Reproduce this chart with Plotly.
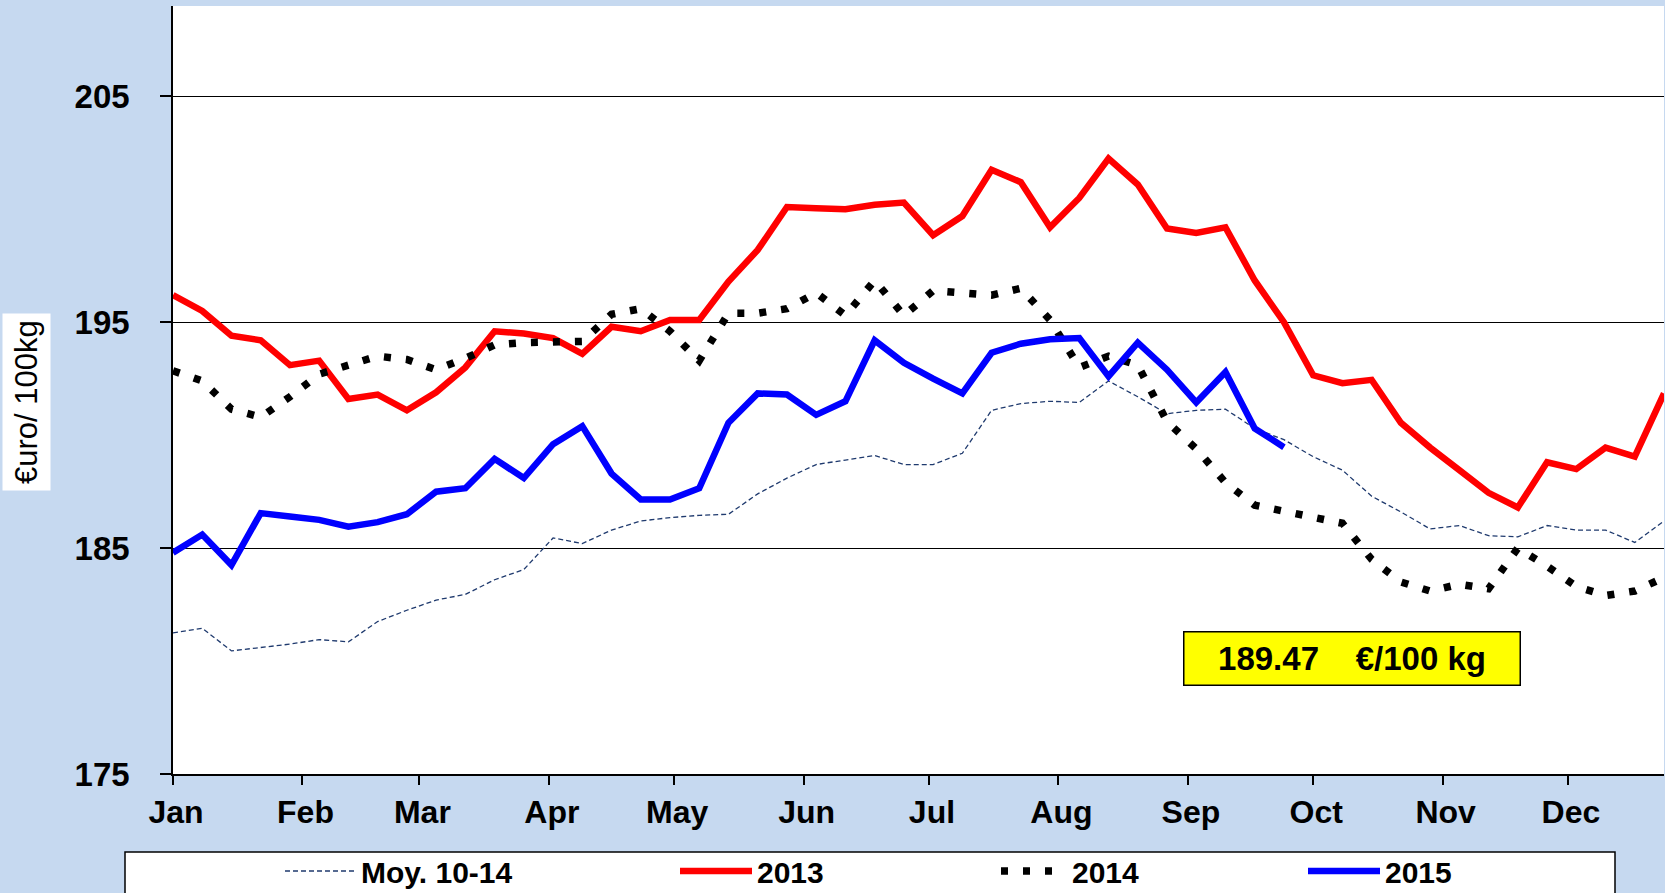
import plotly.graph_objects as go

# ---------------- data ----------------
WEEKS = list(range(52))  # week index 0..51
MONTHS = ["Jan", "Feb", "Mar", "Apr", "May", "Jun",
          "Jul", "Aug", "Sep", "Oct", "Nov", "Dec"]
MONTH_START_DAY = [0, 31, 59, 90, 120, 151, 181, 212, 243, 273, 304, 334]
Y_TICKS = [175, 185, 195, 205]

MOY_10_14 = [181.25, 181.45, 180.45, 180.6, 180.75, 180.95, 180.85, 181.75, 182.25, 182.7,
             182.95, 183.6, 184.05, 185.45, 185.2, 185.8, 186.2, 186.35, 186.45, 186.5,
             187.4, 188.1, 188.7, 188.9, 189.1, 188.7, 188.7, 189.2, 191.1, 191.4,
             191.5, 191.45, 192.4, 191.7, 190.95, 191.1, 191.15, 190.3, 189.8, 189.05,
             188.45, 187.3, 186.6, 185.85, 186.0, 185.55, 185.5, 186.0, 185.8, 185.8,
             185.25, 186.2]

Y2013 = [196.2, 195.5, 194.4, 194.2, 193.1, 193.3, 191.6, 191.8, 191.1, 191.9,
         193.0, 194.6, 194.5, 194.3, 193.6, 194.8, 194.6, 195.1, 195.1, 196.8,
         198.2, 200.1, 200.05, 200.0, 200.2, 200.3, 198.85, 199.7, 201.75, 201.2,
         199.2, 200.5, 202.25, 201.1, 199.15, 198.95, 199.2, 196.85, 195.0, 192.65,
         192.3, 192.45, 190.55, 189.45, 188.45, 187.45, 186.8, 188.8, 188.5, 189.45,
         189.05, 191.85]

Y2014 = [192.85, 192.4, 191.15, 190.8, 191.7, 192.7, 193.1, 193.5, 193.35, 192.9,
         193.4, 194.0, 194.1, 194.1, 194.15, 195.35, 195.6, 194.6, 193.3, 195.4,
         195.4, 195.6, 196.3, 195.3, 196.85, 195.3, 196.4, 196.3, 196.2, 196.5,
         195.1, 193.0, 193.5, 193.1, 190.6, 189.4, 187.9, 186.9, 186.65, 186.4,
         186.1, 184.5, 183.5, 183.1, 183.4, 183.2, 185.0, 184.2, 183.3, 182.9,
         183.1, 183.7]

Y2015 = [184.8, 185.6, 184.25, 186.55, 186.4, 186.25, 185.95, 186.15, 186.5, 187.5,
         187.65, 188.95, 188.1, 189.6, 190.4, 188.3, 187.15, 187.15, 187.65, 190.55,
         191.85, 191.8, 190.9, 191.5, 194.2, 193.2, 192.5, 191.85, 193.65, 194.05,
         194.25, 194.3, 192.6, 194.1, 192.9, 191.45, 192.8, 190.3, 189.47]

SERIES_NAMES = ["Moy. 10-14", "2013", "2014", "2015"]

# ---------------- geometry helpers (pixels -> paper) ----------------
W, H = 1665, 893
L, R, T, B = 173, 1, 6, 119
PW, PH = W - L - R, H - T - B


def px(xp):
    return (xp - L) / PW


def py(yp):
    return (H - B - yp) / PH


FONT = "Liberation Sans, Arial, sans-serif"

fig = go.Figure()
fig.add_trace(go.Scatter(x=WEEKS[:len(MOY_10_14)], y=MOY_10_14, mode="lines",
                         name=SERIES_NAMES[0], legend="legend",
                         line=dict(color="#1F3A6E", width=1.3, dash="5px,3px")))
fig.add_trace(go.Scatter(x=WEEKS[:len(Y2013)], y=Y2013, mode="lines",
                         name=SERIES_NAMES[1], legend="legend2",
                         line=dict(color="#FF0000", width=6.5)))
fig.add_trace(go.Scatter(x=WEEKS[:len(Y2014)], y=Y2014, mode="lines",
                         name=SERIES_NAMES[2], legend="legend3",
                         line=dict(color="#000000", width=7.5, dash="7px,15px")))
fig.add_trace(go.Scatter(x=WEEKS[:len(Y2015)], y=Y2015, mode="lines",
                         name=SERIES_NAMES[3], legend="legend4",
                         line=dict(color="#0000FF", width=6.5)))

legend_font = dict(family=FONT, size=30, color="black", weight="bold")
legend_top = py(845)


def leg(x_left, itemwidth):
    return dict(orientation="h", x=px(x_left), xanchor="left", y=legend_top, yanchor="top",
                itemwidth=itemwidth, bgcolor="rgba(0,0,0,0)", borderwidth=0,
                font=legend_font, tracegroupgap=0)


fig.update_layout(
    width=W, height=H,
    margin=dict(l=L, r=R, t=T, b=B, autoexpand=False),
    paper_bgcolor="#C6D9F0",
    plot_bgcolor="#FFFFFF",
    font=dict(family=FONT, color="black"),
    showlegend=True,
    legend=leg(280, 71),
    legend2=leg(675, 72),
    legend3=leg(996, 66),
    legend4=leg(1303, 72),
    xaxis=dict(range=[0, 51], tickmode="array",
               tickvals=[d / 7 for d in MONTH_START_DAY], ticktext=MONTHS,
               ticks="outside", ticklen=9, tickwidth=1.5, tickcolor="black",
               showline=True, linecolor="black", linewidth=1.5,
               showgrid=False, zeroline=False,
               tickfont=dict(family=FONT, size=32, color="black", weight="bold"),
               ticklabelstandoff=0, ticklabelshift=3),
    yaxis=dict(range=[175, 209], tickmode="array", tickvals=Y_TICKS,
               ticktext=[str(v) for v in Y_TICKS],
               ticks="outside", ticklen=11, tickwidth=1.5, tickcolor="black",
               showline=True, linecolor="black", linewidth=1.5,
               showgrid=True, gridcolor="black", gridwidth=1, zeroline=False,
               tickfont=dict(family=FONT, size=33, color="black", weight="bold"),
               ticklabelstandoff=24),
    shapes=[dict(type="rect", xref="paper", yref="paper",
                 x0=px(125), x1=px(1615), y0=py(905), y1=py(852),
                 fillcolor="white", line=dict(color="black", width=1.5), layer="below")],
    annotations=[
        dict(text="€uro/ 100kg", textangle=-90, xref="paper", yref="paper",
             x=px(26.5), y=py(402.5), xanchor="center", yanchor="middle",
             showarrow=False, bgcolor="white", borderpad=6,
             font=dict(family=FONT, size=31, color="black")),
        dict(text=f"{Y2015[-1]:.2f}\u00a0\u00a0\u00a0\u00a0€/100 kg",
             xref="paper", yref="paper", x=px(1351.5), y=py(658),
             xanchor="center", yanchor="middle", showarrow=False,
             bgcolor="#FFFF00", bordercolor="black", borderwidth=1.5, borderpad=5,
             width=325, height=42, align="center",
             font=dict(family=FONT, size=33, color="black", weight="bold")),
    ],
)

fig.write_html("out.html",
               config={"displayModeBar": False},
               post_script="document.body.style.margin='0';document.body.style.padding='0';")
